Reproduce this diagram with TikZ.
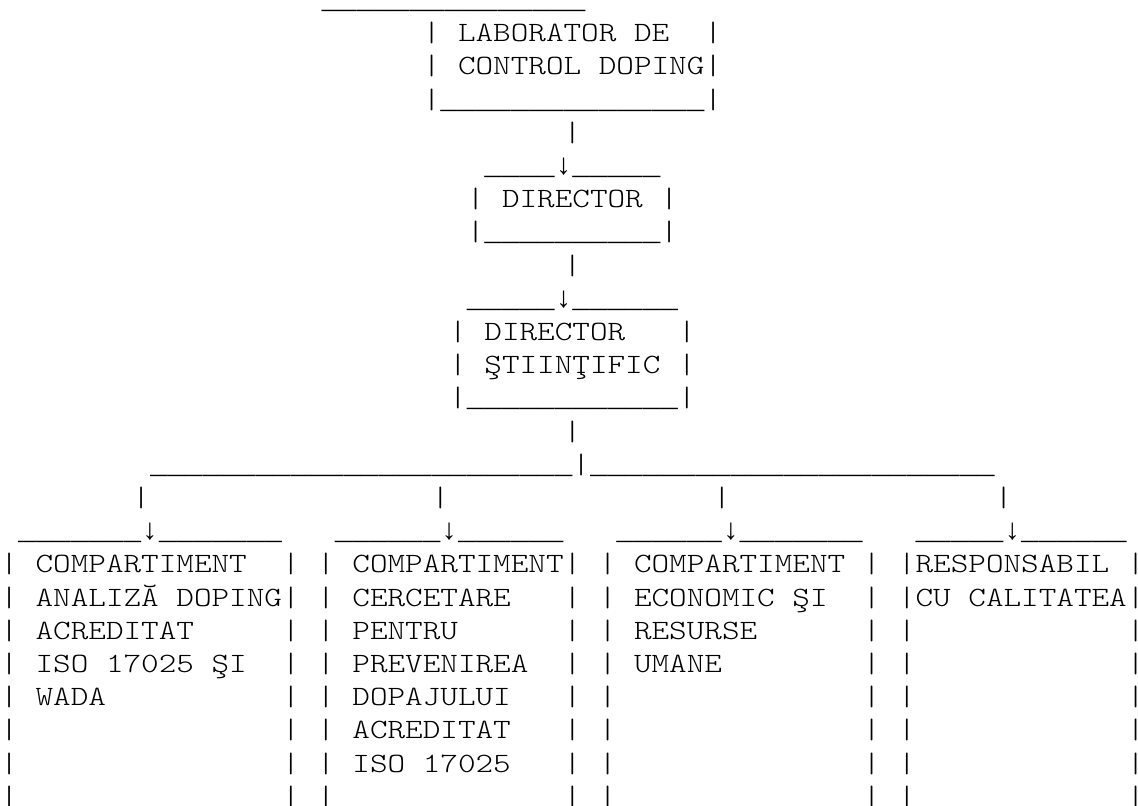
\documentclass[tikz,border=0pt]{standalone}
\usepackage{fontspec}
\usepackage{tikz}
\usetikzlibrary{positioning}
\newfontfamily\orgtt{lmmonolt10-regular.otf}[FakeStretch=1.2]
\newfontfamily\linett{Liberation Mono}
\newcommand{\unds}[1]{{\linett\fontsize{29.33pt}{33.2pt}\selectfont\foreach\k in {1,...,#1}{\_}}}

\begin{document}
\begin{tikzpicture}[x=17.6pt, y=-33.2pt,
  every node/.style={inner sep=0pt, outer sep=0pt},
  ascii/.style={font={\orgtt\fontsize{27.94pt}{33.2pt}\selectfont}, anchor=base west},
  downch/.style={font={\linett\fontsize{29.33pt}{33.2pt}\selectfont}, anchor=base west}]

\useasboundingbox (0,0) rectangle (64.66,24.25);

\begin{scope}[shift={(0.023,-0.744)}]

% Laborator box
\node[ascii] (labtop) at (18.25,1) {\unds{15}};
\node[ascii] (labl1) at (24,2) {|};
\node[ascii] (lab1) at (26,2) {LABORATOR DE};
\node[ascii] (labr1) at (40,2) {|};
\node[ascii] (labl2) at (24,3) {|};
\node[ascii] (lab2) at (26,3) {CONTROL DOPING};
\node[ascii] (labr2) at (40,3) {|};
\node[ascii] (labbot) at (24,4) {|\unds{15}|};
\node[ascii] (link1) at (32,5) {|};

% Director box
\node[ascii] (dirtopl) at (27.5,6) {\unds{4}};
\node[downch] (arr1) at (31.5,6) {↓};
\node[ascii] (dirtopr) at (32.5,6) {\unds{5}};
\node[ascii] (dirl) at (26.5,7) {|};
\node[ascii] (dir) at (28.5,7) {DIRECTOR};
\node[ascii] (dirr) at (37.5,7) {|};
\node[ascii] (dirbot) at (26.5,8) {|\unds{10}|};
\node[ascii] (link2) at (32,9) {|};

% Director stiintific box
\node[ascii] (dsctopl) at (26.5,10) {\unds{5}};
\node[downch] (arr2) at (31.5,10) {↓};
\node[ascii] (dsctopr) at (32.5,10) {\unds{6}};
\node[ascii] (dscl1) at (25.5,11) {|};
\node[ascii] (dsc1) at (27.5,11) {DIRECTOR};
\node[ascii] (dscr1) at (38.5,11) {|};
\node[ascii] (dscl2) at (25.5,12) {|};
\node[ascii] (dsc2) at (27.5,12) {ŞTIINŢIFIC};
\node[ascii] (dscr2) at (38.5,12) {|};
\node[ascii] (dscbot) at (25.5,13) {|\unds{12}|};
\node[ascii] (link3) at (32,14) {|};

% Branch line
\node[ascii] (branchl) at (8.5,15) {\unds{24}};
\node[ascii] (branchm) at (32.5,15) {|};
\node[ascii] (branchr) at (33.5,15) {\unds{23}};
\foreach \c [count=\i] in {7.5,24.5,40.5,56.5}
  \node[ascii] (drop\i) at (\c,16) {|};

% Box tops with arrows
\node[ascii] (cmp1topl) at (1,17) {\unds{7}};
\node[downch] (arr3) at (8,17) {↓};
\node[ascii] (cmp1topr) at (9,17) {\unds{7}};
\node[ascii] (cmp2topl) at (19,17) {\unds{6}};
\node[downch] (arr4) at (25,17) {↓};
\node[ascii] (cmp2topr) at (26,17) {\unds{6}};
\node[ascii] (cmp3topl) at (35,17) {\unds{6}};
\node[downch] (arr5) at (41,17) {↓};
\node[ascii] (cmp3topr) at (42,17) {\unds{7}};
\node[ascii] (resptopl) at (52,17) {\unds{5}};
\node[downch] (arr6) at (57,17) {↓};
\node[ascii] (resptopr) at (58,17) {\unds{6}};

% Box sides
\foreach \r in {18,...,25}
  \foreach \c in {0,16,18,32,34,49,51,64}
    \node[ascii] (side-\r-\c) at (\c,\r) {|};

% Compartiment analiza doping
\node[ascii] (cmp1a) at (2,18) {COMPARTIMENT};
\node[ascii] (cmp1b) at (2,19) {ANALIZĂ DOPING};
\node[ascii] (cmp1c) at (2,20) {ACREDITAT};
\node[ascii] (cmp1d) at (2,21) {ISO 17025 ŞI};
\node[ascii] (cmp1e) at (2,22) {WADA};

% Compartiment cercetare
\node[ascii] (cmp2a) at (20,18) {COMPARTIMENT};
\node[ascii] (cmp2b) at (20,19) {CERCETARE};
\node[ascii] (cmp2c) at (20,20) {PENTRU};
\node[ascii] (cmp2d) at (20,21) {PREVENIREA};
\node[ascii] (cmp2e) at (20,22) {DOPAJULUI};
\node[ascii] (cmp2f) at (20,23) {ACREDITAT};
\node[ascii] (cmp2g) at (20,24) {ISO 17025};

% Compartiment economic
\node[ascii] (cmp3a) at (36,18) {COMPARTIMENT};
\node[ascii] (cmp3b) at (36,19) {ECONOMIC ŞI};
\node[ascii] (cmp3c) at (36,20) {RESURSE};
\node[ascii] (cmp3d) at (36,21) {UMANE};

% Responsabil calitate
\node[ascii] (resp1) at (52,18) {RESPONSABIL};
\node[ascii] (resp2) at (52,19) {CU CALITATEA};

\end{scope}
\end{tikzpicture}
\end{document}
